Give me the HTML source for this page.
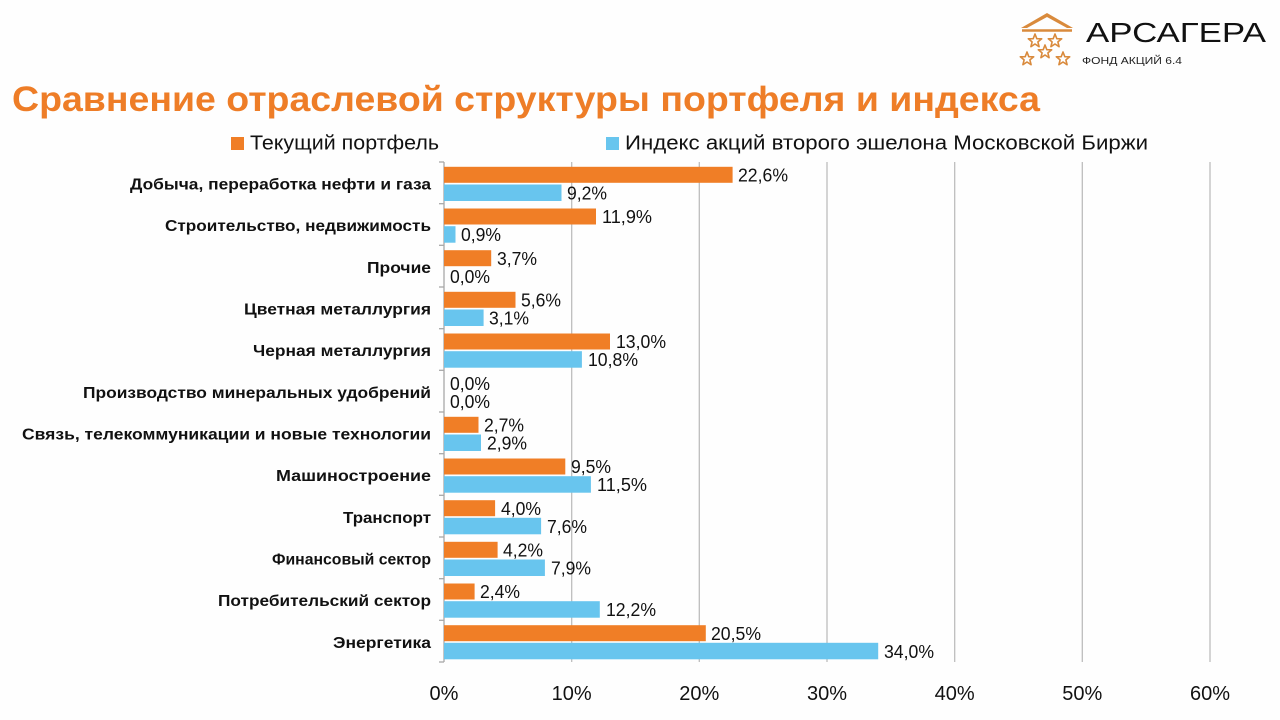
<!DOCTYPE html>
<html><head><meta charset="utf-8"><style>
html,body{margin:0;padding:0;background:#fff;}
svg{display:block;}
text{font-family:"Liberation Sans","DejaVu Sans",sans-serif;}
</style></head><body>
<svg width="1280" height="720" viewBox="0 0 1280 720" xmlns="http://www.w3.org/2000/svg">
<rect width="1280" height="720" fill="#fefefe"/>
<!-- logo -->
<polygon points="1047,13 1073,28 1067,28 1047,17 1027,28 1021,28" fill="#d98a3c"/>
<line x1="1022" y1="30.5" x2="1072" y2="30.5" stroke="#d98a3c" stroke-width="2.5"/>
<g fill="none" stroke="#d98a3c" stroke-width="1.6" stroke-linejoin="round">
<polygon points="0,-7 1.8,-2.3 6.7,-2.2 2.9,0.9 4.1,5.7 0,3 -4.1,5.7 -2.9,0.9 -6.7,-2.2 -1.8,-2.3" transform="translate(1035,41)"/>
<polygon points="0,-7 1.8,-2.3 6.7,-2.2 2.9,0.9 4.1,5.7 0,3 -4.1,5.7 -2.9,0.9 -6.7,-2.2 -1.8,-2.3" transform="translate(1055,41)"/>
<polygon points="0,-7 1.8,-2.3 6.7,-2.2 2.9,0.9 4.1,5.7 0,3 -4.1,5.7 -2.9,0.9 -6.7,-2.2 -1.8,-2.3" transform="translate(1045,52)"/>
<polygon points="0,-7 1.8,-2.3 6.7,-2.2 2.9,0.9 4.1,5.7 0,3 -4.1,5.7 -2.9,0.9 -6.7,-2.2 -1.8,-2.3" transform="translate(1027,59)"/>
<polygon points="0,-7 1.8,-2.3 6.7,-2.2 2.9,0.9 4.1,5.7 0,3 -4.1,5.7 -2.9,0.9 -6.7,-2.2 -1.8,-2.3" transform="translate(1063,59)"/>
</g>
<text x="1086" y="42" font-size="28" fill="#111" textLength="180" lengthAdjust="spacingAndGlyphs">АРСАГЕРА</text>
<text x="1082" y="64" font-size="10" fill="#222" textLength="100" lengthAdjust="spacingAndGlyphs">ФОНД АКЦИЙ 6.4</text>

<!-- title -->
<text x="12" y="111" font-size="35" font-weight="bold" fill="#ee7d27" textLength="1028" lengthAdjust="spacingAndGlyphs">Сравнение отраслевой структуры портфеля и индекса</text>

<!-- legend -->
<rect x="231" y="137" width="13" height="13" fill="#f07e26"/>
<text x="250" y="149.5" font-size="20" fill="#111" textLength="189" lengthAdjust="spacingAndGlyphs">Текущий портфель</text>
<rect x="606" y="137" width="13" height="13" fill="#68c5ee"/>
<text x="625" y="149.5" font-size="20" fill="#111" textLength="523" lengthAdjust="spacingAndGlyphs">Индекс акций второго эшелона Московской Биржи</text>

<!-- grid -->
<g stroke="#bdbdbd" stroke-width="1.3">
<line x1="571.7" y1="162" x2="571.7" y2="662"/>
<line x1="699.3" y1="162" x2="699.3" y2="662"/>
<line x1="827" y1="162" x2="827" y2="662"/>
<line x1="954.7" y1="162" x2="954.7" y2="662"/>
<line x1="1082.3" y1="162" x2="1082.3" y2="662"/>
<line x1="1210" y1="162" x2="1210" y2="662"/>
</g>
<g stroke="#a8a8a8" stroke-width="1.3">
<line x1="444" y1="162" x2="444" y2="662"/>
<line x1="439" y1="162" x2="444" y2="162"/>
<line x1="439" y1="203.7" x2="444" y2="203.7"/>
<line x1="439" y1="245.3" x2="444" y2="245.3"/>
<line x1="439" y1="287" x2="444" y2="287"/>
<line x1="439" y1="328.7" x2="444" y2="328.7"/>
<line x1="439" y1="370.3" x2="444" y2="370.3"/>
<line x1="439" y1="412" x2="444" y2="412"/>
<line x1="439" y1="453.7" x2="444" y2="453.7"/>
<line x1="439" y1="495.3" x2="444" y2="495.3"/>
<line x1="439" y1="537" x2="444" y2="537"/>
<line x1="439" y1="578.7" x2="444" y2="578.7"/>
<line x1="439" y1="620.3" x2="444" y2="620.3"/>
<line x1="439" y1="662" x2="444" y2="662"/>
</g>

<!-- bars -->
<g fill="#f07e26">
<rect x="444" y="166.8" width="288.6" height="16"/>
<rect x="444" y="208.5" width="152" height="16"/>
<rect x="444" y="250.2" width="47.2" height="16"/>
<rect x="444" y="291.8" width="71.5" height="16"/>
<rect x="444" y="333.5" width="166" height="16"/>
<rect x="444" y="416.8" width="34.5" height="16"/>
<rect x="444" y="458.5" width="121.3" height="16"/>
<rect x="444" y="500.2" width="51.1" height="16"/>
<rect x="444" y="541.8" width="53.6" height="16"/>
<rect x="444" y="583.5" width="30.6" height="16"/>
<rect x="444" y="625.2" width="261.8" height="16"/>
</g>
<g fill="#68c5ee">
<rect x="444" y="184.5" width="117.5" height="16.5"/>
<rect x="444" y="226.2" width="11.5" height="16.5"/>
<rect x="444" y="309.5" width="39.6" height="16.5"/>
<rect x="444" y="351.2" width="137.9" height="16.5"/>
<rect x="444" y="434.5" width="37" height="16.5"/>
<rect x="444" y="476.2" width="146.9" height="16.5"/>
<rect x="444" y="517.8" width="97.1" height="16.5"/>
<rect x="444" y="559.5" width="100.9" height="16.5"/>
<rect x="444" y="601.2" width="155.8" height="16.5"/>
<rect x="444" y="642.8" width="434.2" height="16.5"/>
</g>

<!-- category labels -->
<g font-size="16" font-weight="bold" fill="#111" text-anchor="end">
<text x="431" y="189.5" textLength="301" lengthAdjust="spacingAndGlyphs">Добыча, переработка нефти и газа</text>
<text x="431" y="231.2" textLength="266" lengthAdjust="spacingAndGlyphs">Строительство, недвижимость</text>
<text x="431" y="272.8" textLength="64" lengthAdjust="spacingAndGlyphs">Прочие</text>
<text x="431" y="314.5" textLength="187" lengthAdjust="spacingAndGlyphs">Цветная металлургия</text>
<text x="431" y="356.2" textLength="178" lengthAdjust="spacingAndGlyphs">Черная металлургия</text>
<text x="431" y="397.8" textLength="348" lengthAdjust="spacingAndGlyphs">Производство минеральных удобрений</text>
<text x="431" y="439.5" textLength="409" lengthAdjust="spacingAndGlyphs">Связь, телекоммуникации и новые технологии</text>
<text x="431" y="481.2" textLength="155" lengthAdjust="spacingAndGlyphs">Машиностроение</text>
<text x="431" y="522.8" textLength="88" lengthAdjust="spacingAndGlyphs">Транспорт</text>
<text x="431" y="564.5" textLength="159" lengthAdjust="spacingAndGlyphs">Финансовый сектор</text>
<text x="431" y="606.2" textLength="213" lengthAdjust="spacingAndGlyphs">Потребительский сектор</text>
<text x="431" y="647.8" textLength="98" lengthAdjust="spacingAndGlyphs">Энергетика</text>
</g>

<!-- value labels -->
<g font-size="18" fill="#111">
<text x="738" y="181.5" textLength="50" lengthAdjust="spacingAndGlyphs">22,6%</text>
<text x="567" y="199.5" textLength="40" lengthAdjust="spacingAndGlyphs">9,2%</text>
<text x="602" y="223.2" textLength="50" lengthAdjust="spacingAndGlyphs">11,9%</text>
<text x="461" y="241.2" textLength="40" lengthAdjust="spacingAndGlyphs">0,9%</text>
<text x="497" y="264.8" textLength="40" lengthAdjust="spacingAndGlyphs">3,7%</text>
<text x="450" y="282.8" textLength="40" lengthAdjust="spacingAndGlyphs">0,0%</text>
<text x="521" y="306.5" textLength="40" lengthAdjust="spacingAndGlyphs">5,6%</text>
<text x="489" y="324.5" textLength="40" lengthAdjust="spacingAndGlyphs">3,1%</text>
<text x="616" y="348.2" textLength="50" lengthAdjust="spacingAndGlyphs">13,0%</text>
<text x="588" y="366.2" textLength="50" lengthAdjust="spacingAndGlyphs">10,8%</text>
<text x="450" y="389.8" textLength="40" lengthAdjust="spacingAndGlyphs">0,0%</text>
<text x="450" y="407.8" textLength="40" lengthAdjust="spacingAndGlyphs">0,0%</text>
<text x="484" y="431.5" textLength="40" lengthAdjust="spacingAndGlyphs">2,7%</text>
<text x="487" y="449.5" textLength="40" lengthAdjust="spacingAndGlyphs">2,9%</text>
<text x="571" y="473.2" textLength="40" lengthAdjust="spacingAndGlyphs">9,5%</text>
<text x="597" y="491.2" textLength="50" lengthAdjust="spacingAndGlyphs">11,5%</text>
<text x="501" y="514.8" textLength="40" lengthAdjust="spacingAndGlyphs">4,0%</text>
<text x="547" y="532.8" textLength="40" lengthAdjust="spacingAndGlyphs">7,6%</text>
<text x="503" y="556.5" textLength="40" lengthAdjust="spacingAndGlyphs">4,2%</text>
<text x="551" y="574.5" textLength="40" lengthAdjust="spacingAndGlyphs">7,9%</text>
<text x="480" y="598.2" textLength="40" lengthAdjust="spacingAndGlyphs">2,4%</text>
<text x="606" y="616.2" textLength="50" lengthAdjust="spacingAndGlyphs">12,2%</text>
<text x="711" y="639.8" textLength="50" lengthAdjust="spacingAndGlyphs">20,5%</text>
<text x="884" y="657.8" textLength="50" lengthAdjust="spacingAndGlyphs">34,0%</text>
</g>

<!-- x tick labels -->
<g font-size="20" fill="#111" text-anchor="middle">
<text x="444" y="700">0%</text>
<text x="571.7" y="700">10%</text>
<text x="699.3" y="700">20%</text>
<text x="827" y="700">30%</text>
<text x="954.7" y="700">40%</text>
<text x="1082.3" y="700">50%</text>
<text x="1210" y="700">60%</text>
</g>
</svg>
</body></html>
